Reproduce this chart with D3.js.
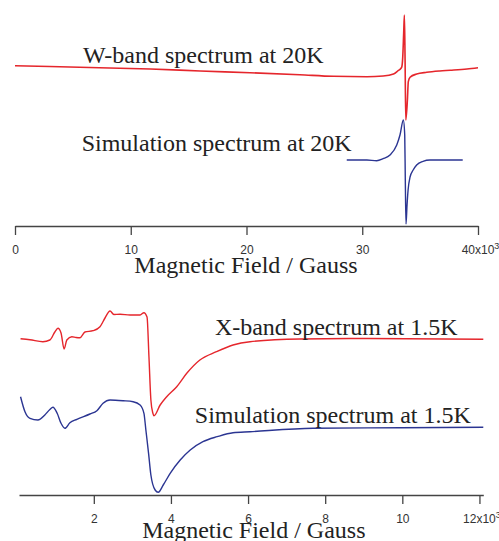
<!DOCTYPE html>
<html>
<head>
<meta charset="utf-8">
<script src="https://cdn.jsdelivr.net/npm/d3@7"></script>
<style>
  html, body { margin: 0; padding: 0; background: #fff; }
  svg { display: block; }
  .tick text { font-family: "Liberation Sans", Arial, sans-serif; font-size: 12px; fill: #333; }
  .axis path, .axis line { stroke: #444; stroke-width: 1.3px; }
  .note { font-family: "Liberation Serif", "Times New Roman", serif; font-size: 24px; fill: #222; }
</style>
</head>
<body>
<svg id="chart" width="499" height="541"></svg>
<script>
// ---- W-band (20 K): field in kG, signal in arbitrary units (stacked offsets included)
const wBandField = [0, 3, 7.3, 11.7, 16, 20.3, 24.6, 27.5, 30.4, 31.8, 32.7, 33.1, 33.33, 33.42, 33.5, 33.58, 33.64, 33.7, 33.76, 33.9, 33.98, 34.13, 34.7, 35.57, 36.7, 37.6, 39.05, 40];
const wBandSignal = [54.3, 53.5, 52.3, 51, 49, 47.3, 45.3, 43.7, 43.3, 44, 46, 49.3, 51.5, 53.3, 63.3, 87, 105, 60, 0, 20, 38.3, 42.7, 46, 47.7, 49, 49.7, 51, 52.3];

const wSimField = [28.66, 30.4, 31.25, 31.8, 32.4, 32.98, 33.26, 33.55, 33.67, 33.72, 33.78, 33.87, 33.96, 34.13, 34.4, 34.7, 35.25, 35.85, 38.68];
const wSimSignal = [-40, -40, -40.7, -38.7, -35, -25, -15, 0, -15, -60, -104, -85, -70, -57, -50, -45, -41.3, -40, -40];

// ---- X-band (1.5 K)
const xBandField = [0.10, 0.345, 0.68, 0.86, 0.99, 1.07, 1.15, 1.23, 1.30, 1.43, 1.54, 1.64, 1.77, 1.98, 2.16, 2.29, 2.42, 2.52, 2.68, 2.94, 3.20, 3.30, 3.38, 3.43, 3.48, 3.53, 3.56, 3.72, 3.89, 4.15, 4.41, 4.75, 5.18, 5.61, 6.05, 7.35, 8.65, 12.1];
const xBandSignal = [161.3, 160.3, 158.3, 160, 168, 171.7, 167, 151, 160, 163.3, 162.5, 162.3, 168, 169.3, 173.3, 182, 189, 185.5, 185.7, 185, 185, 187.3, 183, 143, 100, 87, 84.3, 95, 103.3, 113.3, 126.7, 140, 148.3, 155, 158.3, 161, 161.5, 160.7];

const xSimField = [0.10, 0.215, 0.345, 0.55, 0.73, 0.86, 0.94, 1.05, 1.15, 1.25, 1.38, 1.56, 1.90, 2.08, 2.24, 2.42, 2.76, 3.02, 3.20, 3.30, 3.35, 3.42, 3.48, 3.59, 3.67, 3.80, 3.98, 4.24, 4.50, 4.83, 5.20, 5.61, 6.05, 7.69, 9.95, 12.1];
const xSimSignal = [103.3, 88.3, 81.7, 80, 85, 90.5, 92.7, 86.7, 76.7, 71.7, 77.3, 80.7, 86, 89.3, 96.7, 100, 99.3, 98.3, 95, 86.7, 70, 46.7, 25, 10, 7.7, 15, 26.7, 40, 50, 58.3, 63.3, 67.3, 68.3, 71.7, 72.3, 72.7];

// Axis ticks (kG)
const topTicks = [0, 10, 20, 30, 40];
const bottomTicks = [2, 4, 6, 8, 10, 12];

// Text labels: [text, field, signal]
const topLabels = [["W-band spectrum at 20K", 5.87, 57], ["Simulation spectrum at 20K", 5.76, -30.7]];
const bottomLabels = [["X-band spectrum at 1.5K", 5.14, 165], ["Simulation spectrum at 1.5K", 4.62, 76.7]];
const axisTitle = "Magnetic Field / Gauss";

const red = "#e5262c";
const blue = "#2b3592";

const svg = d3.select("#chart");

// ---- scales
const xTop = d3.scaleLinear().domain([0, 40]).range([15, 478]);
const yTop = d3.scaleLinear().domain([-106, 0]).range([226, 120]);
const xBot = d3.scaleLinear().domain([0.06, 12.1]).range([19, 483.3]);
const yBot = d3.scaleLinear().domain([0, 100]).range([500, 400]);

function drawTrace(xs, ys, xScale, yScale, color, width) {
  const pts = xs.map((x, i) => [x, ys[i]]);
  const line = d3.line()
    .x(d => xScale(d[0]))
    .y(d => yScale(d[1]))
    .curve(d3.curveMonotoneX);
  svg.append("path")
    .datum(pts)
    .attr("d", line)
    .attr("fill", "none")
    .attr("stroke", color)
    .attr("stroke-width", width)
    .attr("stroke-linejoin", "round");
}

function drawAxis(scale, ticks, yPos) {
  const last = ticks[ticks.length - 1];
  const axis = d3.axisBottom(scale)
    .tickValues(ticks)
    .tickSize(9)
    .tickSizeOuter(0)
    .tickPadding(10)
    .tickFormat(d => d === last ? d + "x10" : String(d));
  const g = svg.append("g")
    .attr("class", "axis")
    .attr("transform", `translate(0,${yPos})`)
    .call(axis);
  g.selectAll(".tick text")
    .filter(d => d === last)
    .append("tspan")
    .attr("dy", "-0.55em")
    .attr("font-size", "9px")
    .text("3");
  g.selectAll(".tick text")
    .filter(d => d === last)
    .attr("dx", "2px");
  return g;
}

// ---- top panel
drawAxis(xTop, topTicks, yTop(-106));
drawTrace(wSimField, wSimSignal, xTop, yTop, blue, 1.4);
drawTrace(wBandField, wBandSignal, xTop, yTop, red, 1.6);

svg.selectAll(".topLabel")
  .data(topLabels)
  .join("text")
  .attr("class", "note")
  .attr("x", d => xTop(d[1]))
  .attr("y", d => yTop(d[2]))
  .text(d => d[0]);

svg.append("text")
  .attr("class", "note")
  .attr("text-anchor", "middle")
  .attr("x", xTop(20) - 0.5)
  .attr("y", yTop(-106) + 47)
  .text(axisTitle);

// ---- bottom panel
drawAxis(xBot, bottomTicks, yBot(5));
drawTrace(xSimField, xSimSignal, xBot, yBot, blue, 1.4);
drawTrace(xBandField, xBandSignal, xBot, yBot, red, 1.4);

svg.selectAll(".botLabel")
  .data(bottomLabels)
  .join("text")
  .attr("class", "note")
  .attr("x", d => xBot(d[1]))
  .attr("y", d => yBot(d[2]))
  .text(d => d[0]);

svg.append("text")
  .attr("class", "note")
  .attr("text-anchor", "middle")
  .attr("x", xBot(6.15))
  .attr("y", yBot(5) + 43)
  .text(axisTitle);
</script>
</body>
</html>
